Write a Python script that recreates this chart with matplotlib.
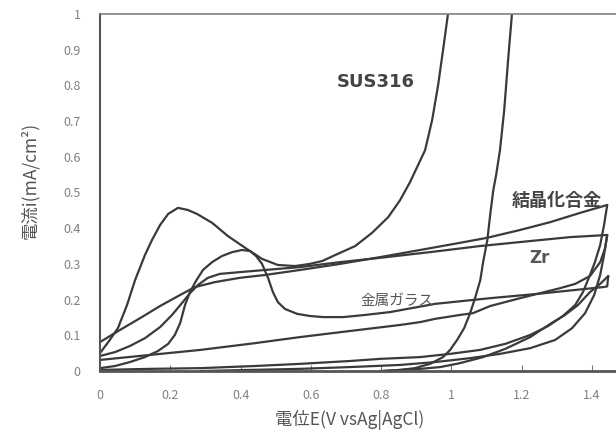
import matplotlib.pyplot as plt

plt.rcParams['font.family'] = ['Noto Sans CJK JP', 'DejaVu Sans']

# SUS316 forward scan
sus_x = [0, 0.028, 0.051, 0.077, 0.100, 0.128, 0.148, 0.171, 0.194, 0.222, 0.250, 0.276,
         0.319, 0.364, 0.413, 0.461, 0.506, 0.555, 0.597, 0.632, 0.683, 0.726, 0.774, 0.820,
         0.854, 0.882, 0.905, 0.925, 0.945, 0.962, 0.976, 0.990, 0.995]
sus_y = [0.050, 0.087, 0.120, 0.185, 0.255, 0.325, 0.367, 0.409, 0.440, 0.457, 0.451, 0.440,
         0.415, 0.378, 0.345, 0.314, 0.297, 0.294, 0.300, 0.308, 0.331, 0.350, 0.387, 0.431,
         0.479, 0.529, 0.577, 0.619, 0.703, 0.801, 0.899, 1.0, 1.04]
# SUS316 reverse scan
sus_rx = [1.178, 1.172, 1.161, 1.150, 1.138, 1.127, 1.119, 1.110, 1.102, 1.090, 1.082, 1.067,
          1.053, 1.036, 1.016, 0.996, 0.976, 0.939, 0.896, 0.854, 0.811]
sus_ry = [1.04, 1.0, 0.871, 0.731, 0.619, 0.549, 0.507, 0.437, 0.367, 0.305, 0.255, 0.204,
          0.162, 0.120, 0.087, 0.059, 0.039, 0.020, 0.008, 0.003, 0.0]

# crystallized alloy forward / reverse
cry_x = [0, 0.057, 0.114, 0.171, 0.228, 0.270, 0.327, 0.398, 0.470, 0.569, 0.683, 0.797,
         0.911, 1.024, 1.101, 1.195, 1.281, 1.366, 1.443]
cry_y = [0.081, 0.115, 0.148, 0.182, 0.213, 0.235, 0.249, 0.261, 0.269, 0.283, 0.300, 0.319,
         0.339, 0.359, 0.373, 0.395, 0.417, 0.443, 0.465]
cry_rx = [1.443, 1.434, 1.423, 1.408, 1.394, 1.374, 1.352, 1.317, 1.275, 1.224, 1.153, 1.081,
          0.996, 0.911, 0.797, 0.711, 0.569, 0.441, 0.285, 0.142, 0]
cry_ry = [0.465, 0.409, 0.353, 0.305, 0.269, 0.221, 0.185, 0.154, 0.126, 0.101, 0.076, 0.059,
          0.048, 0.039, 0.034, 0.028, 0.020, 0.014, 0.008, 0.006, 0.003]

# Zr forward / reverse
zr_x = [0, 0.043, 0.085, 0.128, 0.171, 0.205, 0.233, 0.256, 0.279, 0.307, 0.341, 0.398,
        0.470, 0.569, 0.683, 0.797, 0.939, 1.081, 1.224, 1.337, 1.443]
zr_y = [0.042, 0.053, 0.070, 0.092, 0.123, 0.157, 0.190, 0.218, 0.241, 0.261, 0.272, 0.277,
        0.283, 0.291, 0.305, 0.317, 0.333, 0.350, 0.364, 0.375, 0.381]
zr_rx = [1.443, 1.434, 1.423, 1.406, 1.380, 1.343, 1.295, 1.224, 1.138, 1.053, 0.953, 0.854,
         0.711, 0.569, 0.427, 0.285]
zr_ry = [0.381, 0.325, 0.269, 0.213, 0.162, 0.120, 0.087, 0.064, 0.048, 0.036, 0.025, 0.017,
         0.011, 0.006, 0.003, 0.0]
zr_r2x = [1.443, 1.437, 1.423, 1.394, 1.352, 1.309, 1.252, 1.195, 1.110, 1.061, 1.024, 0.953,
          0.911, 0.854, 0.711, 0.569, 0.441, 0.285, 0.142, 0]
zr_r2y = [0.381, 0.344, 0.305, 0.266, 0.244, 0.232, 0.218, 0.204, 0.182, 0.162, 0.157, 0.146,
          0.137, 0.129, 0.112, 0.095, 0.078, 0.059, 0.045, 0.031]

# metallic glass forward / reverse
mg_x = [0, 0.043, 0.085, 0.128, 0.165, 0.194, 0.213, 0.228, 0.242, 0.256, 0.273, 0.293,
        0.319, 0.347, 0.376, 0.404, 0.427, 0.444, 0.461, 0.478, 0.492, 0.506, 0.526, 0.561,
        0.598, 0.635, 0.692, 0.754, 0.825, 0.953, 1.110, 1.244, 1.352, 1.431, 1.443, 1.446]
mg_y = [0.008, 0.014, 0.025, 0.039, 0.056, 0.076, 0.101, 0.134, 0.185, 0.221, 0.252, 0.283,
        0.305, 0.322, 0.333, 0.339, 0.336, 0.322, 0.300, 0.261, 0.221, 0.193, 0.174, 0.160,
        0.154, 0.151, 0.151, 0.157, 0.165, 0.188, 0.204, 0.216, 0.227, 0.235, 0.237, 0.266]
mg_rx = [1.446, 1.423, 1.394, 1.360, 1.323, 1.281, 1.224, 1.153, 1.090, 1.024, 0.968, 0.911,
         0.854, 0.797]
mg_ry = [0.266, 0.244, 0.221, 0.185, 0.157, 0.132, 0.095, 0.062, 0.039, 0.022, 0.011, 0.006,
         0.003, 0.0]

xticks = [0, 0.2, 0.4, 0.6, 0.8, 1.0, 1.2, 1.4]
xticklabels = ['0', '0.2', '0.4', '0.6', '0.8', '1', '1.2', '1.4']
yticks = [0, 0.1, 0.2, 0.3, 0.4, 0.5, 0.6, 0.7, 0.8, 0.9, 1.0]
yticklabels = ['0', '0.1', '0.2', '0.3', '0.4', '0.5', '0.6', '0.7', '0.8', '0.9', '1']

line_col = '#3a3a3a'
fig = plt.figure(figsize=(6.16, 4.32), dpi=100)
ax = fig.add_axes([0.1623, 0.1412, 0.8377, 0.8264])

curves = [(sus_x, sus_y), (sus_rx, sus_ry), (cry_x, cry_y), (cry_rx, cry_ry),
          (zr_x, zr_y), (zr_rx, zr_ry), (zr_r2x, zr_r2y), (mg_x, mg_y), (mg_rx, mg_ry)]
for cx, cy in curves:
    ax.plot(cx, cy, color=line_col, lw=1.6, solid_capstyle='round')

ax.set_xlim(0, 1.468)
ax.set_ylim(0, 1)
ax.set_xticks(xticks)
ax.set_xticklabels(xticklabels)
ax.set_yticks(yticks)
ax.set_yticklabels(yticklabels)
ax.tick_params(axis='x', direction='in', length=4, width=0.8, color='#777',
               labelsize=9, labelcolor='#808080', pad=13)
ax.tick_params(axis='y', length=0, labelsize=9, labelcolor='#808080', pad=14)

ax.spines['right'].set_visible(False)
ax.spines['bottom'].set_linewidth(2)
ax.spines['bottom'].set_color('#555555')
ax.spines['left'].set_linewidth(1.5)
ax.spines['left'].set_color('#555555')
ax.spines['top'].set_linewidth(1.2)
ax.spines['top'].set_color('#808080')

ax.text(0.785, 0.81, 'SUS316', fontsize=13, fontweight='bold', color='#444444',
        ha='center', va='center', family=['DejaVu Sans'])
ax.text(1.298, 0.477, '結晶化合金', fontsize=13, fontweight='bold', color='#444444',
        ha='center', va='center')
ax.text(1.25, 0.317, 'Zr', fontsize=12, fontweight='bold', color='#555555',
        ha='center', va='center', family=['DejaVu Sans'])
ax.text(0.845, 0.197, '金属ガラス', fontsize=10.5, color='#555555', ha='center', va='center')

fig.text(30 / 616, 1 - 180 / 432, '電流i(mA/cm²)', rotation=90, fontsize=12.5,
         color='#555555', ha='center', va='center')
fig.text(350 / 616, 1 - 420 / 432, '電位E(V vsAg|AgCl)', fontsize=12.5,
         color='#555555', ha='center', va='center')

fig.savefig('out.png', dpi=100)
